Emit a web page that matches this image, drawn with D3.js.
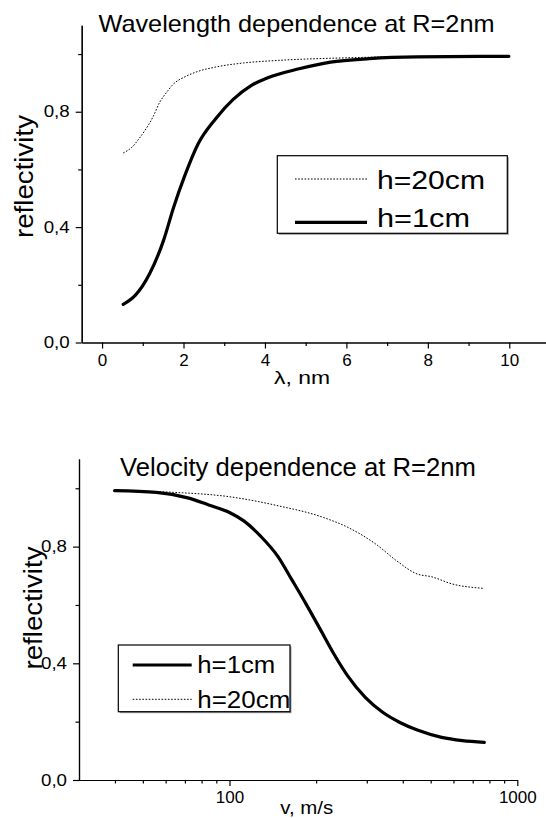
<!DOCTYPE html>
<html>
<head>
<meta charset="utf-8">
<script src="https://cdn.jsdelivr.net/npm/d3@7"></script>
<style>
  html, body { margin: 0; padding: 0; background: #fff; }
  svg { display: block; font-family: Arial, "Liberation Sans", sans-serif; }
  .axis path, .axis line { stroke: #000; stroke-width: 1.2; }
  .axis text { fill: #000; }
</style>
</head>
<body>
<svg id="chart" width="546" height="818"></svg>
<script>
// ---- Wavelength dependence (R = 2 nm) ----
const lambdaH1 = [0.52, 0.82, 1.17, 1.51, 1.76, 2.02, 2.36, 2.79, 3.22, 3.65, 4.07, 4.84, 5.61, 6.56, 7.75, 9.99];
const reflLambdaH1 = [0.132, 0.164, 0.239, 0.354, 0.470, 0.574, 0.689, 0.776, 0.843, 0.890, 0.918, 0.949, 0.972, 0.984, 0.990, 0.992];
const lambdaH20 = [0.52, 0.74, 0.91, 1.08, 1.25, 1.42, 1.59, 1.76, 2.02, 2.36, 2.79, 3.47, 4.33, 6.04, 7.75, 9.99];
const reflLambdaH20 = [0.657, 0.678, 0.707, 0.741, 0.782, 0.834, 0.868, 0.897, 0.920, 0.940, 0.955, 0.969, 0.978, 0.987, 0.992, 0.994];
const lambdaTicksMajor = [0, 2, 4, 6, 8, 10];
const lambdaTicksMinor = [1, 3, 5, 7, 9];

// ---- Velocity dependence (R = 2 nm) ----
const velH1 = [39.9, 55.7, 71.6, 84.6, 100, 111.8, 128.5, 147.6, 165, 184.6, 206.3, 230.6, 257.8, 296.3, 340.6, 391, 449.5, 546, 645, 768];
const reflVelH1 = [0.992, 0.986, 0.967, 0.943, 0.917, 0.889, 0.835, 0.765, 0.685, 0.603, 0.518, 0.432, 0.356, 0.283, 0.232, 0.197, 0.171, 0.146, 0.135, 0.129];
const velH20 = [39.9, 64.1, 100, 147.6, 212, 257.8, 322, 380, 449.5, 502, 594, 763];
const reflVelH20 = [0.992, 0.986, 0.971, 0.940, 0.900, 0.866, 0.809, 0.752, 0.706, 0.697, 0.672, 0.657];
const velTicksMajor = [100, 1000];
const velTicksMinor = [40, 50, 60, 70, 80, 90, 200, 300, 400, 500, 600, 700, 800, 900];

const reflTicksMajor = [0, 0.4, 0.8];
const reflTicksMinor = [0.2, 0.6, 1.0];
const fmtComma = d => d3.format(".1f")(d).replace(".", ",");

const svg = d3.select("#chart");

function yAxes(g, y, x0) {
  g.append("g").attr("class", "axis").attr("transform", `translate(${x0},0)`)
    .call(d3.axisLeft(y).tickValues(reflTicksMinor).tickSize(3.5).tickFormat("").tickSizeOuter(0));
  g.append("g").attr("class", "axis").attr("transform", `translate(${x0},0)`)
    .call(d3.axisLeft(y).tickValues(reflTicksMajor).tickSize(6).tickPadding(6)
      .tickFormat(fmtComma).tickSizeOuter(0))
    .selectAll("text").attr("font-size", 16).attr("textLength", 26).attr("lengthAdjust", "spacingAndGlyphs");
}

function legend(g, box, rows) {
  g.append("rect").attr("x", box.x + 1.5).attr("y", box.y + 1.5)
    .attr("width", box.w).attr("height", box.h).attr("fill", "#9a9a9a");
  g.append("rect").attr("x", box.x).attr("y", box.y)
    .attr("width", box.w).attr("height", box.h)
    .attr("fill", "#fff").attr("stroke", "#000").attr("stroke-width", 1.2);
  rows.forEach(r => {
    g.append("line").attr("x1", r.lx1).attr("x2", r.lx2).attr("y1", r.ly).attr("y2", r.ly)
      .attr("stroke", "#000").attr("stroke-width", r.width).attr("stroke-dasharray", r.dash);
    g.append("text").attr("x", r.tx).attr("y", r.ty).attr("font-size", r.fs)
      .attr("textLength", r.tl).attr("lengthAdjust", "spacingAndGlyphs").text(r.label);
  });
}

const solid = { width: 3.2, dash: null };
const dotted = { width: 1, dash: "1.6,1.6" };

// ================= top panel =================
{
  const g = svg.append("g");
  const x = d3.scaleLinear().domain([-0.5, 11]).range([81.7, 550]);
  const y = d3.scaleLinear().domain([0, 1.1]).range([342.5, 25.2]);

  g.append("g").attr("class", "axis").attr("transform", "translate(0,342.5)")
    .call(d3.axisBottom(x).tickValues(lambdaTicksMinor).tickSize(3.5).tickFormat("").tickSizeOuter(0));
  g.append("g").attr("class", "axis").attr("transform", "translate(0,342.5)")
    .call(d3.axisBottom(x).tickValues(lambdaTicksMajor).tickSize(6).tickPadding(5).tickSizeOuter(0))
    .selectAll("text").attr("font-size", 17);
  yAxes(g, y, 81.7);

  const line = d3.line().x(d => x(d[0])).y(d => y(d[1])).curve(d3.curveMonotoneX);
  g.append("path").datum(d3.zip(lambdaH20, reflLambdaH20)).attr("d", line)
    .attr("fill", "none").attr("stroke", "#000").attr("stroke-width", dotted.width).attr("stroke-dasharray", dotted.dash);
  g.append("path").datum(d3.zip(lambdaH1, reflLambdaH1)).attr("d", line)
    .attr("fill", "none").attr("stroke", "#000").attr("stroke-width", solid.width).attr("stroke-linecap", "round");

  g.append("text").attr("x", 98.5).attr("y", 31.5).attr("font-size", 24)
    .attr("textLength", 396).attr("lengthAdjust", "spacingAndGlyphs").text("Wavelength dependence at R=2nm");
  g.append("text").attr("transform", "translate(33,176.5) rotate(-90)").attr("text-anchor", "middle")
    .attr("font-size", 26).attr("textLength", 123).attr("lengthAdjust", "spacingAndGlyphs").text("reflectivity");
  g.append("text").attr("x", 302).attr("y", 383.5).attr("text-anchor", "middle").attr("font-size", 19)
    .attr("textLength", 56).attr("lengthAdjust", "spacingAndGlyphs").text("λ, nm");

  legend(g, { x: 277.3, y: 155.7, w: 230, h: 77.6 }, [
    { ...dotted, lx1: 295, lx2: 367, ly: 179, tx: 377, ty: 189.3, fs: 25, tl: 108, label: "h=20cm" },
    { ...solid, lx1: 295, lx2: 367, ly: 222.3, tx: 377, ty: 226.7, fs: 25, tl: 93, label: "h=1cm" }
  ]);
}

// ================= bottom panel =================
{
  const g = svg.append("g");
  const x = d3.scaleLog().domain([30, 1000]).range([79, 517.3]);
  const y = d3.scaleLinear().domain([0, 1.1]).range([780, 459.1]);

  g.append("g").attr("class", "axis").attr("transform", "translate(0,780)")
    .call(d3.axisBottom(x).tickValues(velTicksMinor).tickSize(3.5).tickFormat("").tickSizeOuter(0));
  g.append("g").attr("class", "axis").attr("transform", "translate(0,780)")
    .call(d3.axisBottom(x).tickValues(velTicksMajor).tickSize(6).tickPadding(5)
      .tickFormat(d3.format("d")).tickSizeOuter(0))
    .selectAll("text").attr("font-size", 17);
  yAxes(g, y, 79);

  const line = d3.line().x(d => x(d[0])).y(d => y(d[1])).curve(d3.curveMonotoneX);
  g.append("path").datum(d3.zip(velH20, reflVelH20)).attr("d", line)
    .attr("fill", "none").attr("stroke", "#000").attr("stroke-width", dotted.width).attr("stroke-dasharray", dotted.dash);
  g.append("path").datum(d3.zip(velH1, reflVelH1)).attr("d", line)
    .attr("fill", "none").attr("stroke", "#000").attr("stroke-width", solid.width).attr("stroke-linecap", "round");

  g.append("text").attr("x", 120).attr("y", 476).attr("font-size", 25)
    .attr("textLength", 356).attr("lengthAdjust", "spacingAndGlyphs").text("Velocity dependence at R=2nm");
  g.append("text").attr("transform", "translate(41.7,608) rotate(-90)").attr("text-anchor", "middle")
    .attr("font-size", 26).attr("textLength", 123).attr("lengthAdjust", "spacingAndGlyphs").text("reflectivity");
  g.append("text").attr("x", 306.7).attr("y", 814).attr("text-anchor", "middle").attr("font-size", 18)
    .attr("textLength", 53).attr("lengthAdjust", "spacingAndGlyphs").text("v, m/s");

  legend(g, { x: 118.3, y: 645, w: 171.7, h: 66.7 }, [
    { ...solid, lx1: 132.7, lx2: 191.7, ly: 665, tx: 197.3, ty: 673.3, fs: 23, tl: 78, label: "h=1cm" },
    { ...dotted, lx1: 132.7, lx2: 191.7, ly: 699.3, tx: 197.3, ty: 707.7, fs: 23, tl: 93, label: "h=20cm" }
  ]);
}
</script>
</body>
</html>
